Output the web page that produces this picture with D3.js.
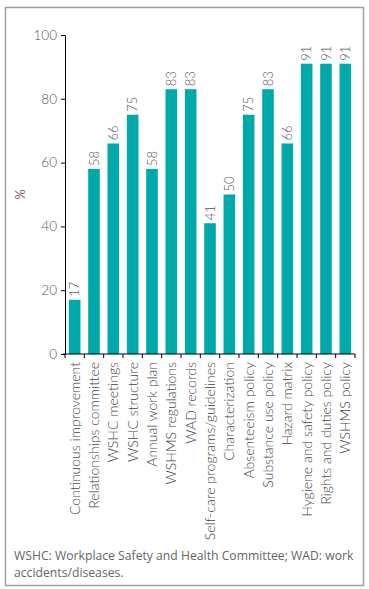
<!DOCTYPE html>
<html>
<head>
<meta charset="utf-8">
<script src="https://cdn.jsdelivr.net/npm/d3@7"></script>
<style>
  body { margin: 0; background: #fff; }
  svg text { font-family: Lato, "Liberation Sans", sans-serif; }
</style>
</head>
<body>
<svg id="chart"></svg>
<script>
// Chart data
const categories = [
    "Continuous improvement", "Relationships committee", "WSHC meetings",
    "WSHC structure", "Annual work plan", "WSHMS regulations", "WAD records",
    "Self-care programs/guidelines", "Characterization", "Absenteeism policy",
    "Substance use policy", "Hazard matrix", "Hygiene and safety policy",
    "Rights and duties policy", "WSHMS policy"
];
const values = [17, 58, 66, 75, 58, 83, 83, 41, 50, 75, 83, 66, 91, 91, 91];
const yTicks = [0, 20, 40, 60, 80, 100];
const yLabel = "%";
const noteLines = [
    "WSHC: Workplace Safety and Health Committee; WAD: work",
    "accidents/diseases."
];

const width = 369, height = 589;
const margin = { left: 65, right: 14, top: 35, bottom: 235 };

const svg = d3.select("#chart")
    .attr("width", width)
    .attr("height", height);

// outer frame
svg.append("rect")
    .attr("x", 5.5).attr("y", 7.5)
    .attr("width", 358).attr("height", 578)
    .attr("fill", "none")
    .attr("stroke", "#a0a0a0")
    .attr("stroke-width", 1.5);

const x = d3.scaleBand()
    .domain(categories)
    .range([margin.left, width - margin.right])
    .paddingInner(0.4)
    .paddingOuter(0.2);

const y = d3.scaleLinear()
    .domain([0, 100])
    .range([height - margin.bottom, margin.top]);

// bars
svg.selectAll("rect.bar")
    .data(values)
    .join("rect")
    .attr("class", "bar")
    .attr("x", (d, i) => x(categories[i]))
    .attr("y", d => y(d))
    .attr("width", x.bandwidth())
    .attr("height", d => y(0) - y(d))
    .attr("fill", "#00a9a9");

// value labels, rotated
svg.selectAll("text.val")
    .data(values)
    .join("text")
    .attr("class", "val")
    .attr("transform", (d, i) =>
        `translate(${x(categories[i]) + x.bandwidth() / 2 + 4.5},${y(d) - 3}) rotate(-90)`)
    .attr("font-size", "13px")
    .attr("font-weight", 300)
    .attr("fill", "#555")
    .text(d => d);

// y axis
const yAxis = svg.append("g")
    .attr("transform", `translate(${margin.left},0)`)
    .call(d3.axisLeft(y).tickValues(yTicks).tickSize(4).tickPadding(4));
yAxis.selectAll("text")
    .attr("font-size", "13.5px")
    .attr("font-weight", 300)
    .attr("fill", "#555");

// x axis with ticks at band edges
const step = x.step();
const edges = d3.range(categories.length + 1).map(i => margin.left + i * step);
const xAxis = svg.append("g");
xAxis.append("line")
    .attr("x1", margin.left - 2).attr("x2", width - margin.right)
    .attr("y1", y(0)).attr("y2", y(0))
    .attr("stroke", "#000");
xAxis.selectAll("line.tick")
    .data(edges)
    .join("line")
    .attr("class", "tick")
    .attr("x1", d => d).attr("x2", d => d)
    .attr("y1", y(0)).attr("y2", y(0) + 4)
    .attr("stroke", "#000");

svg.selectAll("path.domain, .tick line").attr("stroke", "#000");

// category labels
svg.selectAll("text.cat")
    .data(categories)
    .join("text")
    .attr("class", "cat")
    .attr("transform", d =>
        `translate(${x(d) + x.bandwidth() / 2 + 5},${y(0) + 8}) rotate(-90)`)
    .attr("text-anchor", "end")
    .attr("font-size", "14px")
    .attr("font-weight", 300)
    .attr("fill", "#444")
    .text(d => d);

// y label
svg.append("text")
    .attr("transform", `translate(25,${(y(0) + y(100)) / 2}) rotate(-90)`)
    .attr("text-anchor", "middle")
    .attr("font-size", "13px")
    .attr("fill", "#8a5a5a")
    .text(yLabel);

// footnote
svg.selectAll("text.note")
    .data(noteLines)
    .join("text")
    .attr("class", "note")
    .attr("x", 14)
    .attr("y", (d, i) => 560 + i * 17)
    .attr("font-size", "12.2px")
    .style("font-family", "'Open Sans', sans-serif")
    .attr("fill", "#666")
    .text(d => d);
</script>
</body>
</html>
